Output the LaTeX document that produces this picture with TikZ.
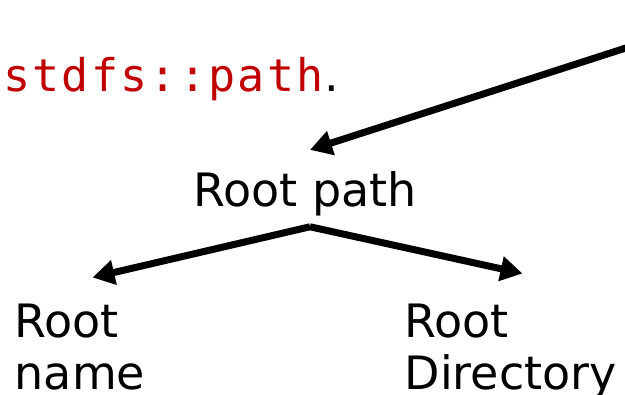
\documentclass[tikz,border=0pt]{standalone}
\usepackage{fontspec}
\setmainfont{DejaVu Sans}
\newfontfamily\codefont[LetterSpace=5]{DejaVu Sans Mono}
\definecolor{codered}{RGB}{192,0,0}
\usetikzlibrary{arrows.meta}

\begin{document}
\begin{tikzpicture}[x=1pt,y=-1pt,
	lbl/.style={inner sep=0pt, font=\fontsize{46}{52}\selectfont},
	arr/.style={line width=7pt, -{Triangle[length=22pt,width=24pt]}}]

	\useasboundingbox (0,0) rectangle (625,395);
	\clip (0,0) rectangle (625,395);

	% type name on top
	\node[lbl, anchor=base west] (type) at (3,92)
		{{\codefont\fontsize{45}{50}\selectfont\color{codered}stdfs::path}\kern1pt.};

	% the tree
	\node[lbl, anchor=base] (rootpath) at (305,207) {Root path};
	\node[lbl, anchor=north west, align=left] (rootname) at (14.5,303.5) {Root\\name};
	\node[lbl, anchor=north west, align=left] (rootdir) at (404.5,303.5) {Root\\Directory};

	\coordinate (from) at (660,37);
	\coordinate (fork) at ([xshift=5pt,yshift=-10pt]rootpath.south);

	\draw[arr] (from) -- ([xshift=5pt,yshift=22pt]rootpath.north);
	\draw[arr] (fork) -- ([xshift=78pt,yshift=26pt]rootname.north west);
	\draw[arr] (fork) -- ([xshift=118pt,yshift=30pt]rootdir.north west);

\end{tikzpicture}
\end{document}
